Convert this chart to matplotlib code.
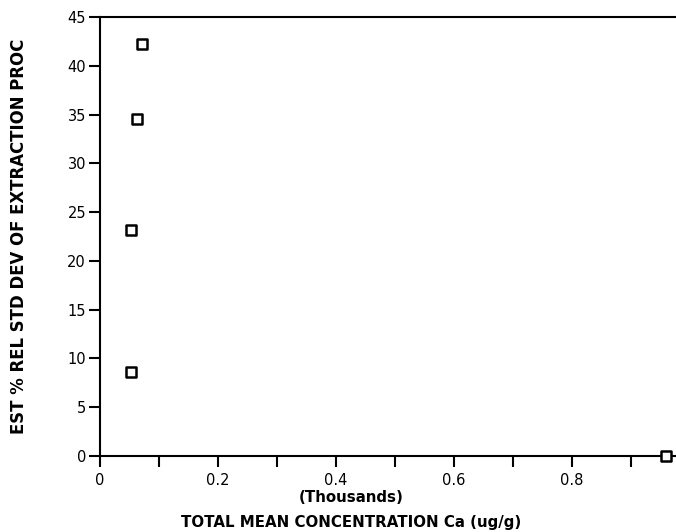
import matplotlib
matplotlib.use("Agg")
import matplotlib.pyplot as plt
from matplotlib.ticker import MultipleLocator

# data (x in thousands of ug/g)
conc_thousands = [0.052, 0.053, 0.062, 0.072, 0.960]
rel_std_dev = [8.6, 23.2, 34.5, 42.2, 0.0]

x_ticks = [0, 0.2, 0.4, 0.6, 0.8, 1.0]
x_tick_labels = ["0", "0.2", "0.4", "0.6", "0.8", "1"]
y_ticks = list(range(0, 46, 5))

plt.rcParams.update({
    "font.family": ["DejaVu Sans"],
    "font.size": 10,
})

W, H = 676, 532
fig = plt.figure(figsize=(W / 100, H / 100), dpi=100)
# axes run past the right edge, as in the cropped original
ax = fig.add_axes([100 / W, 1 - 456 / H, 590 / W, 439 / H])

ax.scatter(conc_thousands, rel_std_dev, marker="s", s=55, facecolor="white",
           edgecolor="black", linewidth=1.8, zorder=3, clip_on=False)

ax.set_xlim(0, 1.0)
ax.set_ylim(0, 45)
ax.set_xticks(x_ticks)
ax.set_xticklabels(x_tick_labels)
ax.xaxis.set_minor_locator(MultipleLocator(0.1))
ax.set_yticks(y_ticks)

for s in ["left", "bottom", "top"]:
    ax.spines[s].set_linewidth(1.5)
ax.spines["right"].set_visible(False)

ax.tick_params(axis="both", which="both", direction="out", length=8, width=1.5,
               labelsize=10.5, colors="black")
ax.tick_params(axis="x", pad=4)
ax.tick_params(axis="y", pad=2)

ax.set_ylabel("EST % REL STD DEV OF EXTRACTION PROC", fontweight="bold",
              fontsize=11.9)
ax.yaxis.set_label_coords((28 - 100) / 590, 0.5)

fig.text(351 / W, 1 - 497 / H, "(Thousands)", ha="center", va="center",
         fontweight="bold", fontsize=10.8)
fig.text(351 / W, 1 - 522 / H, "TOTAL MEAN CONCENTRATION Ca (ug/g)", ha="center",
         va="center", fontweight="bold", fontsize=10.8)

fig.savefig("out.png", dpi=100)
